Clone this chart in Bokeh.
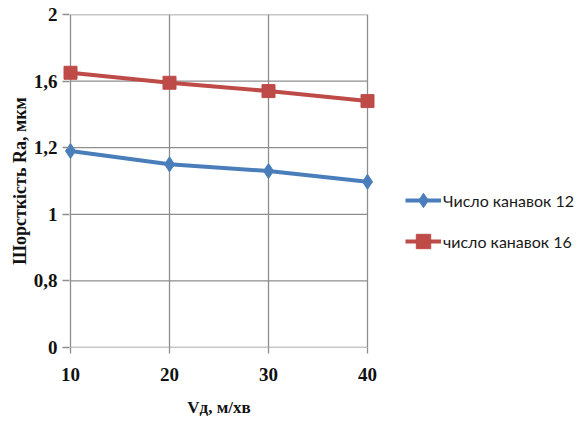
from bokeh.plotting import figure
from bokeh.models import Range1d, FixedTicker, Legend, LegendItem
from bokeh.embed import file_html
from bokeh.resources import INLINE

# data
speeds = [10, 20, 30, 40]
grooves12 = [1.18, 1.10, 1.06, 0.995]
grooves16 = [1.65, 1.59, 1.54, 1.48]
series_names = ["Число канавок 12", "число канавок 16"]
y_ticks = [0, 0.4, 0.8, 1.2, 1.6, 2]
y_tick_labels = ["0", "0,8", "1", "1,2", "1,6", "2"]
x_ticks = [10, 20, 30, 40]
x_title = "Vд, м/хв"
y_title = "Шорсткість Ra, мкм"

BLUE = "#4a7ebb"
RED = "#be4b48"
GRID = "#8e8e8e"

frame_w, frame_h = 313, 333
pad_px = 8
xscale = (x_ticks[-1] - x_ticks[0]) / (frame_w - 2 * pad_px)
p = figure(frame_width=frame_w, frame_height=frame_h,
           x_range=Range1d(x_ticks[0] - pad_px * xscale, x_ticks[-1] + pad_px * xscale),
           y_range=Range1d(y_ticks[0], y_ticks[-1]),
           output_backend="svg", toolbar_location=None,
           min_border_left=62, min_border_top=14, min_border_right=205, min_border_bottom=72)
p.outline_line_color = None
p.xgrid.visible = False
p.ygrid.visible = False

# grid lines drawn between the outer ticks
n = len(y_ticks)
m = len(x_ticks)
p.segment(x0=[x_ticks[0]] * n, y0=y_ticks, x1=[x_ticks[-1]] * n, y1=y_ticks,
          line_color=GRID, line_width=1.3)
p.segment(x0=x_ticks, y0=[y_ticks[0]] * m, x1=x_ticks, y1=[y_ticks[-1]] * m,
          line_color=GRID, line_width=1.3)

r1l = p.line(speeds, grooves12, line_color=BLUE, line_width=4)
r1m = p.scatter(speeds, grooves12, marker="diamond", size=15, fill_color=BLUE, line_color=BLUE)
r2l = p.line(speeds, grooves16, line_color=RED, line_width=4)
r2m = p.scatter(speeds, grooves16, marker="square", size=13, fill_color=RED, line_color=RED)

# axes
p.yaxis.ticker = FixedTicker(ticks=y_ticks)
p.yaxis.major_label_overrides = {t: l for t, l in zip(y_ticks, y_tick_labels)}
p.yaxis.axis_line_color = None
p.yaxis.major_tick_in = 7
p.yaxis.major_tick_out = 0
p.yaxis.major_tick_line_color = GRID
p.yaxis.major_tick_line_width = 1.3
p.yaxis.minor_tick_line_color = None
p.yaxis.major_label_standoff = 5
p.yaxis.axis_label = y_title
p.yaxis.axis_label_standoff = 1

p.xaxis.ticker = FixedTicker(ticks=x_ticks)
p.xaxis.axis_line_color = None
p.xaxis.major_tick_in = 0
p.xaxis.major_tick_out = 6
p.xaxis.major_tick_line_color = GRID
p.xaxis.major_tick_line_width = 1.3
p.xaxis.minor_tick_line_color = None
p.xaxis.major_label_standoff = 14
p.xaxis.axis_label = x_title
p.xaxis.axis_label_standoff = 14

for ax in (p.xaxis[0], p.yaxis[0]):
    ax.major_label_text_font = "Liberation Serif"
    ax.major_label_text_font_style = "bold"
    ax.major_label_text_font_size = "19px"
    ax.major_label_text_color = "#111111"
    ax.axis_label_text_font = "Liberation Serif"
    ax.axis_label_text_font_style = "bold"
    ax.axis_label_text_color = "#111111"
p.xaxis.axis_label_text_font_size = "17px"
p.yaxis.axis_label_text_font_size = "18px"

legend = Legend(items=[LegendItem(label=series_names[0], renderers=[r1l, r1m]),
                       LegendItem(label=series_names[1], renderers=[r2l, r2m])],
                location=(30, 88), padding=0, margin=0, spacing=5,
                glyph_width=36, glyph_height=36, label_height=20, label_standoff=2,
                border_line_color=None, background_fill_alpha=0,
                label_text_font="Lato", label_text_font_size="16px",
                label_text_color="#1a1a1a")
p.add_layout(legend, "right")

open("out.html", "w").write(file_html(p, INLINE))
